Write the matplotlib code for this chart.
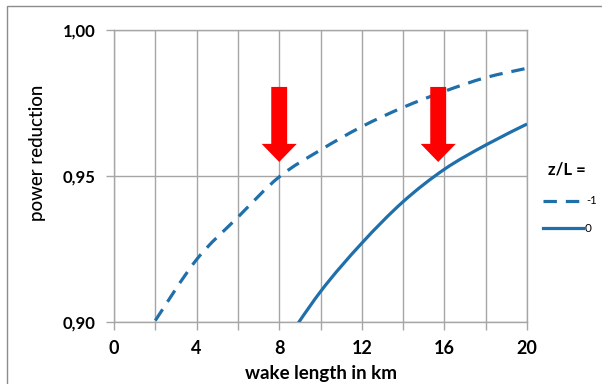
import matplotlib
matplotlib.use("Agg")
import matplotlib.pyplot as plt
import numpy as np
from matplotlib.patches import FancyArrow, Rectangle, PathPatch
from matplotlib.path import Path
from matplotlib.lines import Line2D

plt.rcParams['font.family'] = ['Lato', 'DejaVu Sans']

# ---- data ----
x_dashed = [2, 4, 6, 8, 10, 12, 14, 16, 18, 20]
y_dashed = [0.9005, 0.9214, 0.9359, 0.9497, 0.9589, 0.9669, 0.9735, 0.9790, 0.9837, 0.9869]
x_solid = [8, 10, 12, 14, 16, 18, 20]
y_solid = [0.8900, 0.9104, 0.9270, 0.9412, 0.9523, 0.9606, 0.9678]
series_labels = ["-1", "0"]
legend_title = "z/L ="
x_ticks = [0, 4, 8, 12, 16, 20]
y_ticks = [0.90, 0.95, 1.00]
y_tick_labels = ["0,90", "0,95", "1,00"]
arrow_x = [8, 15.7]
arrow_top = 0.9805
arrow_tip = 0.9548

blue = '#1f6fab'
grid_c = '#a6a6a6'


def smooth_path(xs, ys):
    """Catmull-Rom style cubic Bezier through the data points (like Excel's smoothed line)."""
    p = np.column_stack([xs, ys]).astype(float)
    n = len(p)
    verts = [p[0]]
    codes = [Path.MOVETO]
    for i in range(n - 1):
        p0 = p[i - 1] if i > 0 else p[i]
        p1 = p[i]
        p2 = p[i + 1]
        p3 = p[i + 2] if i + 2 < n else p[i + 1]
        c1 = p1 + (p2 - p0) / 6.0
        c2 = p2 - (p3 - p1) / 6.0
        verts += [c1, c2, p2]
        codes += [Path.CURVE4] * 3
    return Path(verts, codes)


fig = plt.figure(figsize=(6.02, 3.84), dpi=100)
fig.patch.set_facecolor('white')
fig.patches.append(Rectangle((7/602, -0.5), 2.0, 0.5 + 1 - 6/384, transform=fig.transFigure,
                             fill=False, edgecolor='#8c8c8c', linewidth=1.0))

ax = fig.add_axes([114/602, 1 - 322/384, 413/602, 292/384])
ax.set_xlim(0, 20)
ax.set_ylim(0.90, 1.00)

ax.set_xticks(range(0, 21, 2))
ax.set_xticklabels([str(v) if v in x_ticks else "" for v in range(0, 21, 2)])
ax.set_yticks(y_ticks)
ax.set_yticklabels(y_tick_labels)
ax.grid(True, color=grid_c, linewidth=1.0)
ax.set_axisbelow(True)
for s in ax.spines.values():
    s.set_color(grid_c)
    s.set_linewidth(1.0)
ax.tick_params(axis='both', color=grid_c, length=6, width=1.0, pad=7)
for lab in ax.get_xticklabels():
    lab.set_fontsize(13)
    lab.set_fontweight('bold')
for lab in ax.get_yticklabels():
    lab.set_fontsize(12)
    lab.set_fontweight('bold')

ax.add_patch(PathPatch(smooth_path(x_dashed, y_dashed), fill=False, edgecolor=blue,
                       linewidth=2.3, linestyle=(0, (4.2, 2.8)), capstyle='butt', zorder=3))
ax.add_patch(PathPatch(smooth_path(x_solid, y_solid), fill=False, edgecolor=blue,
                       linewidth=2.3, zorder=3))

for xa in arrow_x:
    ax.add_patch(FancyArrow(xa, arrow_top, 0, -(arrow_top - arrow_tip), width=0.77,
                            head_width=1.7, head_length=0.0062, length_includes_head=True,
                            color='#ff0000', linewidth=0, zorder=5))

fig.text(321/602, 1 - 373/384, "wake length in km", ha='center', va='center',
         fontsize=13.5, fontweight='bold')
fig.text(38/602, 1 - 153/384, "power reduction", ha='center', va='center',
         rotation=90, fontsize=13.5, fontweight='medium')

# legend
fig.text(567/602, 1 - 170/384, legend_title, ha='center', va='center', fontsize=12, fontweight='bold')
fig.add_artist(Line2D([543/602, 582/602], [1 - 201/384] * 2, transform=fig.transFigure,
                      color=blue, linewidth=2.3, dashes=(4.2, 2.8), dash_capstyle='butt'))
fig.text(586/602, 1 - 201/384, series_labels[0], ha='left', va='center', fontsize=8)
fig.add_artist(Line2D([543/602, 583/602], [1 - 228/384] * 2, transform=fig.transFigure,
                      color=blue, linewidth=2.3))
fig.text(585/602, 1 - 228/384, series_labels[1], ha='left', va='center', fontsize=8.5)

fig.savefig("out.png", dpi=100)
